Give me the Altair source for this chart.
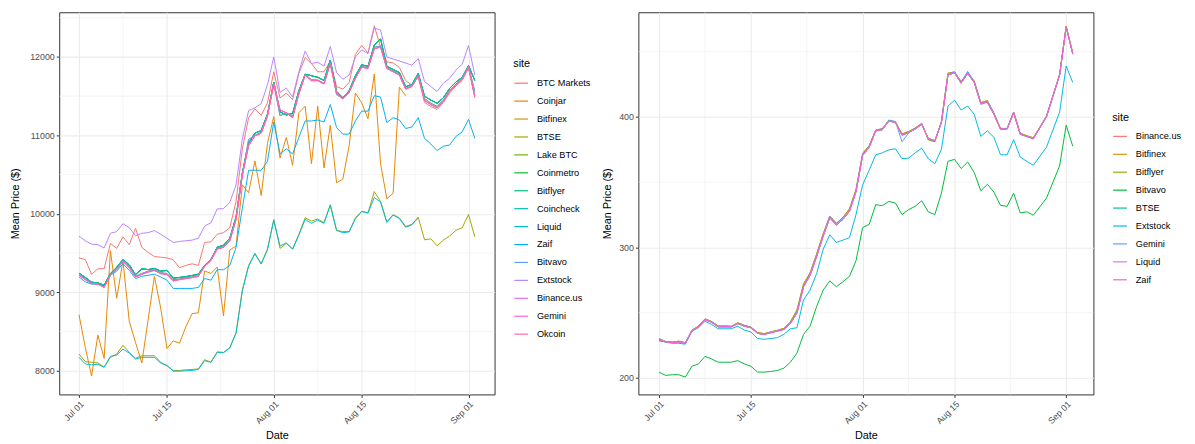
import altair as alt
import pandas as pd

FONT = "Liberation Sans"
N = None

DATES = pd.date_range("2020-07-01", "2020-09-02", freq="D")

# ---------------- left panel (BTC) ----------------
LEFT_SITES = ["BTC Markets", "Coinjar", "Bitfinex", "BTSE", "Lake BTC", "Coinmetro",
              "Bitflyer", "Coincheck", "Liquid", "Zaif", "Bitvavo", "Extstock",
              "Binance.us", "Gemini", "Okcoin"]
LEFT_COLORS = ["#F8766D", "#E58700", "#C99800", "#A3A500", "#6BB100", "#00BA38",
               "#00BF7D", "#00C0AF", "#00BCD8", "#00B0F6", "#619CFF", "#B983FF",
               "#E76BF3", "#FD61D1", "#FF67A4"]

BTC_MARKETS = [9439, 9418, 9230, 9301, 9301, 9623, 9561, 9707,
               9607, 9816, 9573, 9510, 9456, 9448, 9439, 9414,
               9314, 9343, 9364, 9343, 9636, 9644, 9740, 9761,
               9824, 10158, 10828, 11226, 11339, 11255, 11414, 11811,
               11477, 11539, 11456, 11790, 11991, 11916, 11811, 11811,
               11949, 11623, 11590, 11673, 12033, 12146, 12050, 12397,
               12125, 11937, 11924, 11866, 11698, 11640, 11745, 11420,
               11370, 11330, 11420, 11540, 11630, 11700, 11860, 11480]
COINJAR = [8715, 8300, 7933, 8456, 8159, 9531, 8925, 9400,
           8632, 8360, 8100, 8650, 9205, 8800, 8285, 8381,
           8352, 8560, 8728, 8740, 9272, 9240, 9322, 8700,
           9540, 9590, 10370, 10270, 10675, 10234, 10895, 11240,
           10711, 10975, 10619, 11288, 11372, 10640, 11372, 10585,
           11129, 10397, 10443, 10870, 11539, 11414, 11213, 11782,
           10640, 10192, 10263, 11615, 11506, N, N, N,
           N, N, N, N, N, N, N, N]
ZAIF_L = [9197, 9134, 9105, 9105, 9080, 9218, 9270, 9364,
          9280, 9176, 9205, 9218, 9230, 9197, 9155, 9050,
          9050, 9050, 9050, 9063, 9176, 9155, 9289, 9288,
          9343, 9573, 10075, 10556, 10556, 10556, 10669, 11170,
          10765, 10828, 10765, 10975, 11184, 11184, 11196, 11171,
          11393, 11100, 11016, 11016, 11184, 11309, 11309, 11506,
          11489, 11163, 11226, 11196, 11087, 11108, 11226, 10962,
          10891, 10807, 10861, 10878, 10987, 11046, 11205, 10962]
EXTSTOCK_L = [9715, 9657, 9615, 9607, 9565, 9753, 9774, 9874,
              9824, 9720, 9753, 9761, 9787, 9740, 9690, 9636,
              9649, 9657, 9665, 9690, 9845, 9887, 10063, 10067,
              10146, 10368, 10954, 11318, 11351, 11405, 11644, 12000,
              11548, 11602, 11490, 11811, 12075, 11916, 11933, 11882,
              12133, 11799, 11715, 11769, 12000, 12090, 12041, 12368,
              12343, 12000, N, N, N, 11895, 11979, 11686,
              11623, 11560, 11665, 11728, 11832, 11908, 12146, 11769]
BTSE_L = [8213, 8117, 8109, 8100, 8046, 8172, 8213, 8326,
          8234, 8159, 8192, 8192, 8192, 8109, 8067, 8004,
          8004, 8013, 8017, 8025, 8142, 8109, 8243, 8234,
          8297, 8485, 9029, 9343, 9498, 9364, 9552, 9928,
          9560, 9623, 9552, 9740, 9950, 9908, 9935, 9887,
          10117, 9790, 9774, 9774, 9949, 10033, 10012, 10284,
          10158, 9899, 9991, 9949, 9840, 9866, 9958, 9669,
          9682, 9594, 9665, 9719, 9790, 9824, 9991, 9707]
LIQUID_L = [8172, 8088, 8076, 8084, 8046, 8184, 8201, 8276,
            8226, 8151, 8172, 8172, 8172, 8100, 8067, 7996,
            7996, 8000, 8004, 8017, 8130, 8109, 8234, 8230,
            8290, 8480, 9020, 9335, 9490, 9360, 9545, 9920,
            9590, 9630, 9550, 9730, 9930, 9880, 9920, 9880,
            10110, 9790, 9760, 9770, 9940, 10030, 10010, 10209,
            10150, 9890, 9985, 9940, 9830, 9860, 9950, N,
            N, N, N, N, N, N, N, N]
CLUSTER_PINK = [9218, 9163, 9113, 9105, 9063, 9218, 9289, 9397,
                9314, 9197, 9230, 9259, 9280, 9238, 9230, 9146,
                9163, 9176, 9188, 9205, 9331, 9406, 9552, 9573,
                9657, 9928, 10493, 10870, 10995, 11029, 11246, 11655,
                11322, 11288, 11226, 11531, 11769, 11698, 11698, 11656,
                11916, 11539, 11464, 11548, 11728, 11870, 11853, 12104,
                12125, 11853, 11811, 11769, 11590, 11623, 11757, 11447,
                11393, 11351, 11435, 11560, 11644, 11715, 11874, 11497]
CLUSTER_GREEN = [9245, 9190, 9130, 9120, 9090, 9240, 9320, 9420,
                 9350, 9225, 9300, 9290, 9305, 9270, 9280, 9180,
                 9190, 9200, 9215, 9230, 9345, 9420, 9575, 9600,
                 9690, 9960, 10520, 10900, 11030, 11060, 11270, 11680,
                 11300, 11260, 11280, 11570, 11780, 11760, 11740, 11700,
                 11960, 11560, 11480, 11570, 11760, 11900, 11880, 12150,
                 12230, 11880, 11840, 11800, 11620, 11650, 11790, 11500,
                 11450, 11410, 11480, 11600, 11680, 11740, 11890, 11700]
CLUSTER_BLUE = [9235, 9170, 9120, 9110, 9070, 9225, 9300, 9410,
                9330, 9205, 9240, 9270, 9290, 9250, 9240, 9160,
                9170, 9185, 9195, 9212, 9338, 9412, 9560, 9580,
                9665, 9940, 10505, 10950, 11000, 11040, 11255, 11665,
                11250, 11290, 11240, 11540, 11775, 11710, 11705, 11665,
                11930, 11520, 11470, 11555, 11740, 11880, 11860, 12120,
                12140, 11860, 11820, 11780, 11600, 11630, 11770, 11470,
                11410, 11370, 11450, 11575, 11655, 11725, 11880, 11560]

LEFT_SERIES = {
    "BTC Markets": BTC_MARKETS, "Coinjar": COINJAR, "Bitfinex": CLUSTER_BLUE,
    "BTSE": BTSE_L, "Lake BTC": CLUSTER_GREEN, "Coinmetro": CLUSTER_GREEN,
    "Bitflyer": CLUSTER_GREEN, "Coincheck": CLUSTER_GREEN, "Liquid": LIQUID_L,
    "Zaif": ZAIF_L, "Bitvavo": CLUSTER_BLUE, "Extstock": EXTSTOCK_L,
    "Binance.us": CLUSTER_PINK, "Gemini": CLUSTER_PINK, "Okcoin": CLUSTER_PINK,
}

# ---------------- right panel (ETH) ----------------
RIGHT_SITES = ["Binance.us", "Bitfinex", "Bitflyer", "Bitvavo", "BTSE",
               "Extstock", "Gemini", "Liquid", "Zaif"]
RIGHT_COLORS = ["#F8766D", "#D39200", "#93AA00", "#00BA38", "#00C19F",
                "#00B9E3", "#619CFF", "#DB72FB", "#FF61C3"]

R_CLUSTER = [229.1, 227.6, 227.1, 227.6, 226.6, 235.9, 239.2, 244.7,
             242.7, 239.2, 239.2, 239.2, 241.7, 239.7, 238.5, 234.2,
             233.4, 234.7, 235.9, 237.2, 241.7, 249.8, 269.9, 278.7,
             293.1, 308.9, 322.7, 317.2, 321.5, 327.8, 342.9, 370.5,
             376.8, 389.4, 390.2, 396.9, 395.7, 386.0, 388.1, 390.7,
             394.4, 383.6, 381.8, 395.7, 432.2, 433.9, 425.9, 433.4,
             426.4, 410.3, 411.3, 402.0, 390.7, 390.7, 403.2, 386.9,
             385.1, 383.6, N, 400.2, N, 432.2, 469.0, 448.5]
R_CLUSTER_B = [230.0, 228.0, 227.5, 228.2, 227.0, 236.5, 239.8, 245.3,
               243.3, 239.8, 239.9, 239.6, 242.3, 240.3, 239.0, 234.8,
               234.0, 235.3, 236.5, 238.0, 243.0, 252.0, 272.0, 280.5,
               295.0, 310.5, 324.0, 318.5, 323.0, 329.5, 344.5, 372.0,
               378.0, 390.0, 391.0, 397.5, 396.2, 387.0, 388.8, 391.5,
               395.0, 382.5, 381.0, 396.5, 433.5, 434.5, 427.0, 434.0,
               427.5, 411.0, 412.5, 403.0, 391.2, 391.2, 403.8, 387.5,
               385.6, 384.0, N, 400.6, N, 432.6, 469.5, 449.0]
R_GEMINI = [230.2, 227.8, 227.3, 227.8, 226.8, 236.2, 239.5, 245.0,
            243.0, 239.5, 239.4, 239.4, 242.0, 240.0, 238.8, 234.4,
            233.6, 234.9, 236.1, 237.4, 242.0, 250.3, 270.5, 279.3,
            293.8, 309.5, 324.0, 318.5, 322.0, 328.5, 343.5, 371.5,
            377.5, 390.0, 390.8, 397.5, 396.5, 381.0, 387.5, 391.2,
            395.0, 383.0, 381.5, 396.2, 432.8, 434.5, 426.5, 435.0,
            427.0, 409.5, 412.0, 402.5, 391.0, 391.0, 403.8, 386.5,
            385.0, 383.0, N, 400.0, N, 432.0, 468.5, 448.0]
R_EXTSTOCK = [228.4, 227.6, 226.6, 226.6, 225.9, 235.9, 238.5, 243.5,
              241.0, 237.7, 237.7, 237.7, 239.7, 236.7, 235.2, 230.2,
              229.7, 230.2, 230.9, 233.4, 237.7, 238.5, 259.8, 267.4,
              280.0, 298.8, 309.7, 303.9, 305.6, 307.6, 325.3, 347.9,
              359.2, 371.0, 372.5, 374.8, 375.6, 368.0, 368.5, 372.5,
              376.1, 368.0, 364.2, 375.1, 408.3, 412.8, 405.3, 408.3,
              402.0, 385.1, 389.4, 384.4, 371.0, 371.0, 382.6, 369.3,
              366.0, 363.0, N, 376.8, N, 403.7, 439.0, 426.4]
R_BITVAVO = [204.5, 202.0, 202.5, 202.5, 200.7, 209.0, 210.8, 216.6,
             214.6, 212.1, 212.1, 212.1, 213.3, 210.8, 209.0, 204.5,
             204.5, 205.0, 205.7, 207.5, 212.1, 219.1, 233.4, 239.7,
             254.8, 267.4, 274.4, 269.9, 273.7, 277.9, 290.0, 315.2,
             317.7, 332.8, 332.0, 335.3, 334.0, 325.2, 329.0, 331.5,
             335.8, 327.3, 325.2, 341.6, 366.0, 367.5, 360.5, 365.5,
             357.4, 343.4, 348.4, 342.4, 332.3, 331.5, 341.6, 326.5,
             327.3, 324.7, N, 337.8, N, 362.5, 393.7, 377.6]

RIGHT_SERIES = {
    "Binance.us": R_CLUSTER, "Bitfinex": R_CLUSTER_B, "Bitflyer": R_CLUSTER_B,
    "Bitvavo": R_BITVAVO, "BTSE": R_CLUSTER, "Extstock": R_EXTSTOCK,
    "Gemini": R_GEMINI, "Liquid": R_CLUSTER, "Zaif": R_CLUSTER,
}

# axis breaks
X_MAJOR = [(7, 1), (7, 15), (8, 1), (8, 15), (9, 1)]
X_MINOR = ["2020-07-08T00:00:00", "2020-07-23T12:00:00",
           "2020-08-08T00:00:00", "2020-08-23T12:00:00"]
L_Y_MAJOR = [8000, 9000, 10000, 11000, 12000]
L_Y_MINOR = [8500, 9500, 10500, 11500, 12500]
R_Y_MAJOR = [200, 300, 400]
R_Y_MINOR = [250, 350, 450]


def long_df(series, order):
    rows = []
    for name in order:
        for d, v in zip(DATES, series[name]):
            if v is not None:
                rows.append({"date": d, "site": name, "price": v})
    return pd.DataFrame(rows)


X_DOMAIN = [alt.DateTime(year=2020, month=6, date=27, hours=20, minutes=24),
            alt.DateTime(year=2020, month=9, date=5, hours=3, minutes=36)]


def panel(series, order, colors, ydom, ymajor, yminor, width, height,
          legend_y, ytitle_pad):
    df = long_df(series, order)
    xs = alt.Scale(domain=X_DOMAIN, nice=False)
    ys = alt.Scale(domain=ydom, nice=False, zero=False)
    x_axis = alt.Axis(values=[alt.DateTime(year=2020, month=m, date=dd) for m, dd in X_MAJOR],
                      format="%b %d", labelAngle=315, labelAlign="right",
                      labelBaseline="top", labelOverlap=False, labelPadding=2,
                      titlePadding=4)
    y_axis = alt.Axis(values=ymajor, format="d", titlePadding=ytitle_pad)

    def xe():
        return alt.X("date:T", scale=xs, title="Date", axis=x_axis)

    def ye():
        return alt.Y("price:Q", scale=ys, title="Mean Price ($)", axis=y_axis)

    lines = alt.Chart(df).mark_line(strokeWidth=1).encode(
        x=xe(), y=ye(),
        color=alt.Color("site:N", sort=order,
                        scale=alt.Scale(domain=order, range=colors),
                        legend=alt.Legend(title="site", orient="none",
                                          legendX=width + 19, legendY=legend_y,
                                          symbolType="stroke", symbolSize=196,
                                          symbolStrokeWidth=1.2, labelFontSize=9.3,
                                          titleFontSize=11, titleFontWeight="normal",
                                          rowPadding=4.2, titlePadding=6, labelOffset=8,
                                          labelFont=FONT, titleFont=FONT,
                                          labelColor="#000000", titleColor="#000000")),
        order=alt.Order("date:T"),
    )
    minor_x = alt.Chart(pd.DataFrame({"date": pd.to_datetime(X_MINOR)})).mark_rule(
        color="#EBEBEB", strokeWidth=0.55).encode(x=xe())
    minor_y = alt.Chart(pd.DataFrame({"price": yminor})).mark_rule(
        color="#EBEBEB", strokeWidth=0.55).encode(y=ye())
    return alt.layer(minor_x, minor_y, lines).properties(width=width, height=height)


H = 388
left = panel(LEFT_SERIES, LEFT_SITES, LEFT_COLORS, [7699, 12569],
             L_Y_MAJOR, L_Y_MINOR, 442, H, 47, 9)
right = panel(RIGHT_SERIES, RIGHT_SITES, RIGHT_COLORS, [187.4, 480.2],
              R_Y_MAJOR, R_Y_MINOR, 462, H, 101, 6)

chart = alt.hconcat(left, right, spacing=146, bounds="flush").resolve_scale(
    color="independent", x="independent", y="independent"
).properties(
    padding={"left": 1, "top": 0, "right": 5, "bottom": 0}
).configure_view(
    stroke="#333333", strokeWidth=1
).configure_axis(
    labelFont=FONT, titleFont=FONT, labelFontSize=9, titleFontSize=11,
    labelColor="#4D4D4D", titleColor="#000000", titleFontWeight="normal",
    tickColor="#333333", tickSize=3, tickWidth=1, domain=False,
    gridColor="#EBEBEB", gridWidth=1.1,
)

chart.save("out.html", embed_options={"renderer": "svg", "actions": False})
